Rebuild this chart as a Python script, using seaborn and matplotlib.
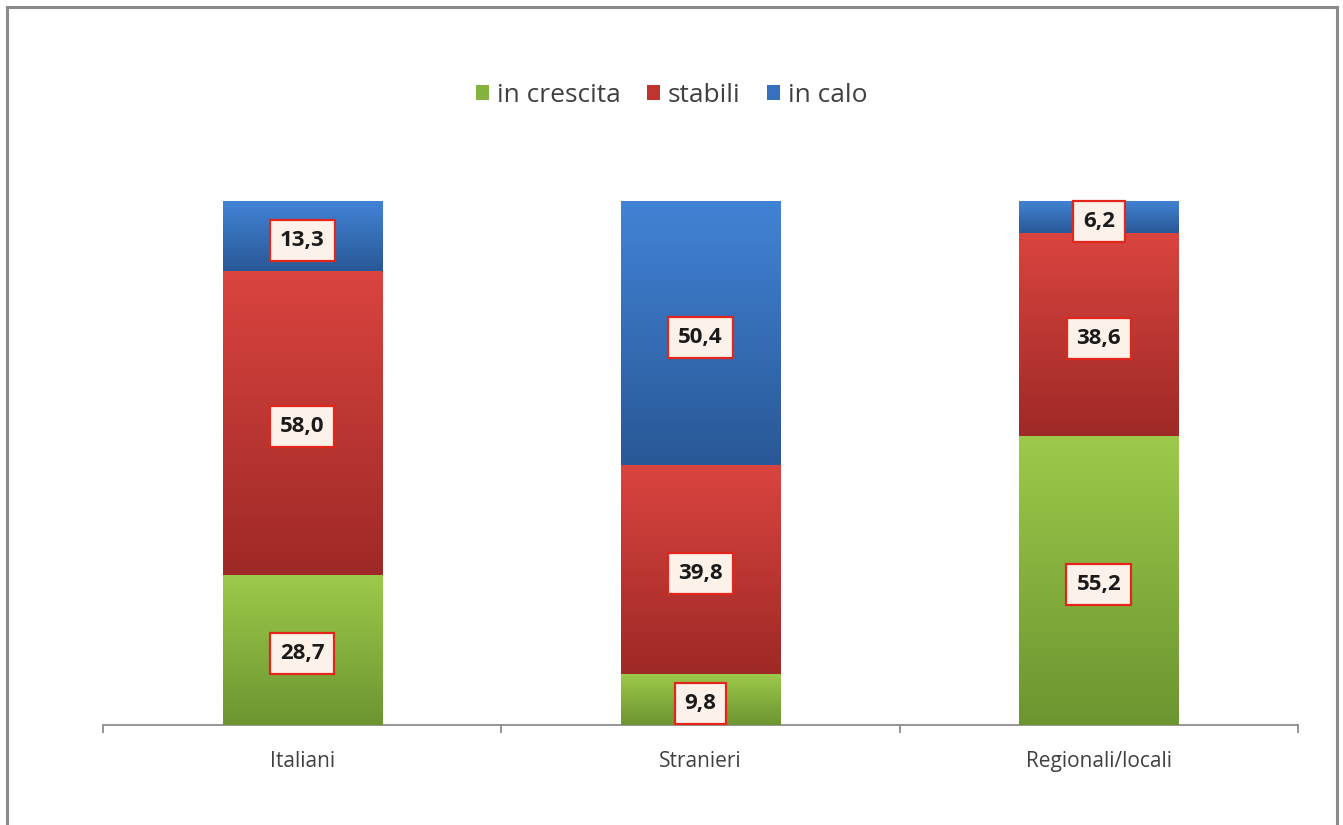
import numpy as np
import pandas as pd
import matplotlib
matplotlib.use("Agg")
import matplotlib.pyplot as plt
from matplotlib.patches import Rectangle, Patch
from matplotlib.colors import LinearSegmentedColormap
import seaborn as sns

categories = ["Italiani", "Stranieri", "Regionali/locali"]
series_names = ["in crescita", "stabili", "in calo"]
in_crescita = [28.7, 9.8, 55.2]
stabili = [58.0, 39.8, 38.6]
in_calo = [13.3, 50.4, 6.2]

base_colors = ["#86B23F", "#C0332F", "#3670BF"]
grad_colors = [("#9DCA4B", "#6C9530"), ("#DA443F", "#9E2926"), ("#4283D6", "#295896")]

sns.set_theme(style="white")
plt.rcParams["font.family"] = ["Open Sans", "DejaVu Sans"]

fig = plt.figure(figsize=(13.43, 8.25), dpi=100)
ax = fig.add_axes([103 / 1343, 100 / 825, (1298 - 103) / 1343, 524 / 825])

values = [in_crescita, stabili, in_calo]
bottom = np.zeros(len(categories))
segments = []
for name, vals, col, (ctop, cbot) in zip(series_names, values, base_colors, grad_colors):
    df = pd.DataFrame({"cat": categories, "val": vals})
    n_before = len(ax.patches)
    sns.barplot(data=df, x="cat", y="val", color=col, width=0.4,
                bottom=bottom.copy(), ax=ax, saturation=1, linewidth=0, zorder=2)
    new_patches = ax.patches[n_before:]
    for p, v, b in zip(new_patches, vals, bottom):
        segments.append((p, v, b, ctop, cbot))
    bottom = bottom + np.array(vals)

ax.set_xlim(-0.5, 2.5)
ax.set_ylim(0, 100)

# gradient fills clipped to each bar segment
grad = np.linspace(0, 1, 256).reshape(-1, 1)
for p, v, b, ctop, cbot in segments:
    cmap = LinearSegmentedColormap.from_list("g", [cbot, ctop])
    x0 = p.get_x()
    w = p.get_width()
    y0 = p.get_y()
    h = p.get_height()
    im = ax.imshow(grad, cmap=cmap, origin="lower", aspect="auto",
                   extent=[x0, x0 + w, y0, y0 + h], zorder=3, interpolation="bilinear")
    im.set_clip_path(p)
ax.set_xlim(-0.5, 2.5)
ax.set_ylim(0, 100)

# value labels
for p, v, b, ctop, cbot in segments:
    cx = p.get_x() + p.get_width() / 2
    cy = p.get_y() + p.get_height() / 2
    ax.annotate(f"{v:.1f}".replace(".", ","), (cx, cy), xytext=(0, -3),
                textcoords="offset points", ha="center", va="center",
                fontsize=16, fontweight="bold", color="#1a1a1a", zorder=5,
                bbox=dict(boxstyle="square,pad=0.45", fc="#FDF2EA", ec="#E3261C", lw=1.6))

# axes styling
for s in ["top", "left", "right"]:
    ax.spines[s].set_visible(False)
ax.spines["bottom"].set_color("#8C8C8C")
ax.spines["bottom"].set_linewidth(1.3)
ax.set_yticks([])
ax.set_xticks([-0.5, 0.5, 1.5, 2.5])
ax.set_xticklabels([])
ax.set_xticks([0, 1, 2], minor=True)
ax.set_xticklabels(categories, minor=True)
ax.tick_params(axis="x", which="major", length=6, width=1.3, color="#8C8C8C", bottom=True, direction="out")
ax.tick_params(axis="x", which="minor", length=0, pad=19, labelsize=15, labelcolor="#404040")
ax.set_xlabel("")
ax.set_ylabel("")

# legend
handles = [Patch(facecolor=c, edgecolor="none") for c in base_colors]
fig.legend(handles, series_names, loc="center", bbox_to_anchor=(0.5, 1 - 95 / 825),
           ncol=3, frameon=False, fontsize=19, handlelength=0.5, handleheight=0.5,
           handletextpad=0.3, columnspacing=1.0, labelcolor="#404040")

# outer frame
fig.patches.append(Rectangle((7 / 1343, -0.02), (1337 - 7) / 1343, 1 - 7 / 825 + 0.02,
                             transform=fig.transFigure, fill=False, ec="#8A8A8A", lw=2.2,
                             clip_on=False))

fig.savefig("out.png", dpi=100)
